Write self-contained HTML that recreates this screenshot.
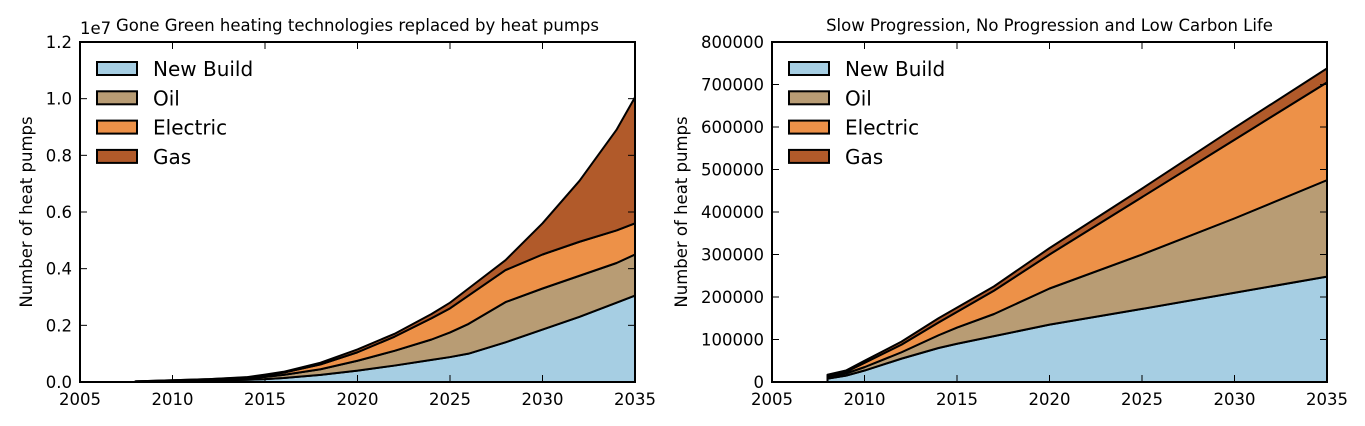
<!DOCTYPE html>
<html><head><meta charset="utf-8"><style>
html,body{margin:0;padding:0;background:#fff;}
svg{display:block;font-family:"DejaVu Sans","Liberation Sans",sans-serif;}
</style></head><body>
<svg id="c" width="1365" height="426" viewBox="0 0 1365 426"></svg>
<script>
const seriesNames = ['New Build','Oil','Electric','Gas'];
const colors = ['#a6cee3','#b89c74','#ed9148','#b15a2a'];
// Left chart (values in millions)
const leftYears = [2008,2010,2012,2014,2015,2016,2018,2020,2022,2024,2025,2026,2028,2030,2032,2034,2035];
const leftNewBuild = [0.01,0.03,0.05,0.08,0.1,0.14,0.25,0.4,0.58,0.78,0.88,1.0,1.4,1.85,2.3,2.8,3.05];
const leftOil = [0.01,0.02,0.03,0.05,0.08,0.11,0.2,0.35,0.52,0.72,0.87,1.05,1.42,1.45,1.45,1.4,1.45];
const leftElectric = [0,0.01,0.02,0.03,0.06,0.08,0.17,0.3,0.5,0.75,0.85,1.0,1.13,1.2,1.2,1.15,1.1];
const leftGas = [0,0,0,0.01,0.02,0.03,0.06,0.1,0.1,0.15,0.2,0.25,0.35,1.1,2.15,3.55,4.45];
const leftYTicks = ['0.0','0.2','0.4','0.6','0.8','1.0','1.2'];
// Right chart (values in thousands)
const rightYears = [2008,2009,2010,2012,2014,2015,2017,2020,2025,2030,2035];
const rightNewBuild = [8,15,27,55,80,90,108,135,172,210,248];
const rightOil = [4,5,8,15,30,38,52,85,128,175,227];
const rightElectric = [2,4,10,18,30,37,55,80,135,185,230];
const rightGas = [3,3,5,7,10,10,10,15,20,28,33];
const rightYTicks = ['0','100000','200000','300000','400000','500000','600000','700000','800000'];
const xTicks = ['2005','2010','2015','2020','2025','2030','2035'];

const svg = document.getElementById('c');
const NS = 'http://www.w3.org/2000/svg';
function mk(tag, attrs, parent){const e=document.createElementNS(NS,tag);for(const k in attrs)e.setAttribute(k,attrs[k]);(parent||svg).appendChild(e);return e;}

function chart(prefix, L, R, T, B, ymax, years, series, yticks, yvals, title, ylabX){
  const g = mk('g',{});
  
  
  const xs = y => L + (y-2005)/(30)*(R-L);
  const ys = v => B - v/ymax*(B-T);
  let base = years.map(()=>0);
  series.forEach((vals,si)=>{
    const top = base.map((b,i)=>b+vals[i]);
    let d = 'M'+years.map((y,i)=>xs(y)+','+ys(top[i])).join(' L');
    for(let i=years.length-1;i>=0;i--) d += ' L'+xs(years[i])+','+ys(base[i]);
    d += ' Z';
    const p = mk('path',{d:d,fill:colors[si],stroke:'#000','stroke-width':2,'stroke-linejoin':'round'},g);
    
    
    base = top;
  });
  const f = mk('rect',{x:L,y:T,width:R-L,height:B-T,fill:'none',stroke:'#000','stroke-width':2},g);
  
  
  xTicks.forEach(t=>{
    const x = xs(+t);
    mk('line',{x1:x,x2:x,y1:B,y2:B-7,stroke:'#000','stroke-width':1},g);
    mk('line',{x1:x,x2:x,y1:T,y2:T+7,stroke:'#000','stroke-width':1},g);
    const tx = mk('text',{x:x,y:405,'text-anchor':'middle','font-size':16.5,fill:'#000'},g);
    tx.textContent = t;
    
    
  });
  yticks.forEach((t,i)=>{
    const y = ys(yvals[i]);
    mk('line',{x1:L,x2:L+7,y1:y,y2:y,stroke:'#000','stroke-width':1},g);
    mk('line',{x1:R,x2:R-7,y1:y,y2:y,stroke:'#000','stroke-width':1},g);
    const tx = mk('text',{x:L-8,y:y+6,'text-anchor':'end','font-size':16.5,fill:'#000'},g);
    tx.textContent = t;
    
    
  });
  const tt = mk('text',{x:(L+R)/2,y:31,'text-anchor':'middle','font-size':16.5,fill:'#000'},g);
  tt.textContent = title;
  
  
  const yl = mk('text',{x:0,y:0,'text-anchor':'middle','font-size':16.5,fill:'#000',transform:'translate('+ylabX+',212) rotate(-90)'},g);
  yl.textContent = 'Number of heat pumps';
  
  
  seriesNames.forEach((n,i)=>{
    const ly = 62 + i*29.3;
    const r = mk('rect',{x:L+17,y:ly,width:40,height:13,fill:colors[i],stroke:'#000','stroke-width':2},g);
    
    
    const lt = mk('text',{x:L+73,y:ly+14,'font-size':20,fill:'#000'},g);
    lt.textContent = n;
    
    
  });
  return g;
}
chart('left',80,635,42,382,12,leftYears,[leftNewBuild,leftOil,leftElectric,leftGas],leftYTicks,leftYTicks.map(t=>+t*10),'Gone Green heating technologies replaced by heat pumps',32);
chart('right',772,1327,42,382,800,rightYears,[rightNewBuild,rightOil,rightElectric,rightGas],rightYTicks,rightYTicks.map(t=>+t/1000),'Slow Progression, No Progression and Low Carbon Life',687);
const oe = mk('text',{x:80,y:34,'font-size':16.5,fill:'#000'});
oe.textContent = '1e7';


</script>
</body></html>
